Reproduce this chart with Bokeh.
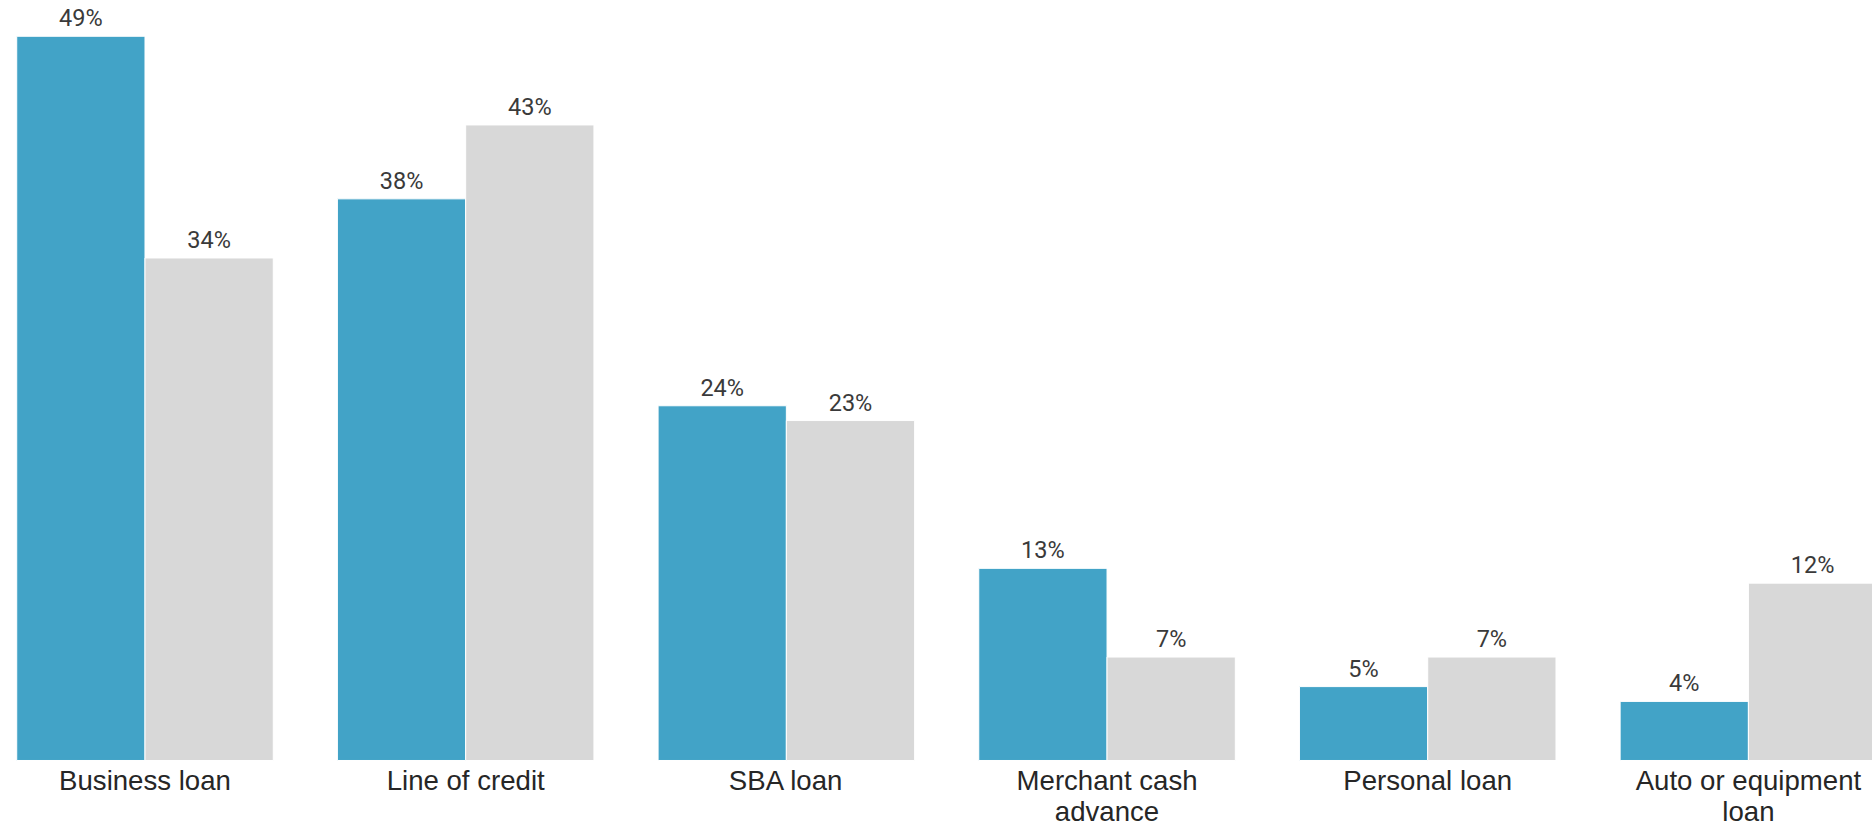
from bokeh.plotting import figure
from bokeh.models import ColumnDataSource, Range1d
from bokeh.core.properties import value
from bokeh.embed import file_html
from bokeh.resources import INLINE

categories = ["Business loan", "Line of credit", "SBA loan",
              "Merchant cash\nadvance", "Personal loan", "Auto or equipment\nloan"]
series_a = [49, 38, 24, 13, 5, 4]
series_b = [34, 43, 23, 7, 7, 12]

BLUE = "#42a3c7"
GRAY = "#d8d8d8"

idx = list(range(len(categories)))
src_a = ColumnDataSource(dict(x=[i - 0.2 for i in idx], top=series_a,
                              lab=[f"{v}%" for v in series_a]))
src_b = ColumnDataSource(dict(x=[i + 0.2 for i in idx], top=series_b,
                              lab=[f"{v}%" for v in series_b]))
src_c = ColumnDataSource(dict(x=idx, y=[0] * len(idx), lab=categories))

p = figure(width=1872, height=825, output_backend="svg", toolbar_location=None,
           x_range=Range1d(-0.4506, 5.387), y_range=Range1d(-4.398, 51.42),
           min_border=0, min_border_left=0, min_border_right=0,
           min_border_top=0, min_border_bottom=0)
p.xaxis.visible = False
p.yaxis.visible = False
p.xgrid.visible = False
p.ygrid.visible = False
p.outline_line_color = None
p.background_fill_color = "white"
p.border_fill_color = "white"

p.vbar(x="x", top="top", bottom=0, width=0.4, source=src_a,
       fill_color=BLUE, line_color="white", line_width=1)
p.vbar(x="x", top="top", bottom=0, width=0.4, source=src_b,
       fill_color=GRAY, line_color="white", line_width=1)

for src in (src_a, src_b):
    p.text(x="x", y="top", text="lab", source=src, text_align="center",
           text_baseline="alphabetic", y_offset=-18,
           text_font=value("Roboto"), text_font_size="23.5px", text_color="#3a3a3a")

p.text(x="x", y="y", text="lab", source=src_c, text_align="center",
       text_baseline="top", y_offset=5, text_line_height=0.97,
       text_font=value("Liberation Sans"), text_font_size="27.6px",
       text_color="#262626")

open("out.html", "w").write(file_html(p, INLINE))
